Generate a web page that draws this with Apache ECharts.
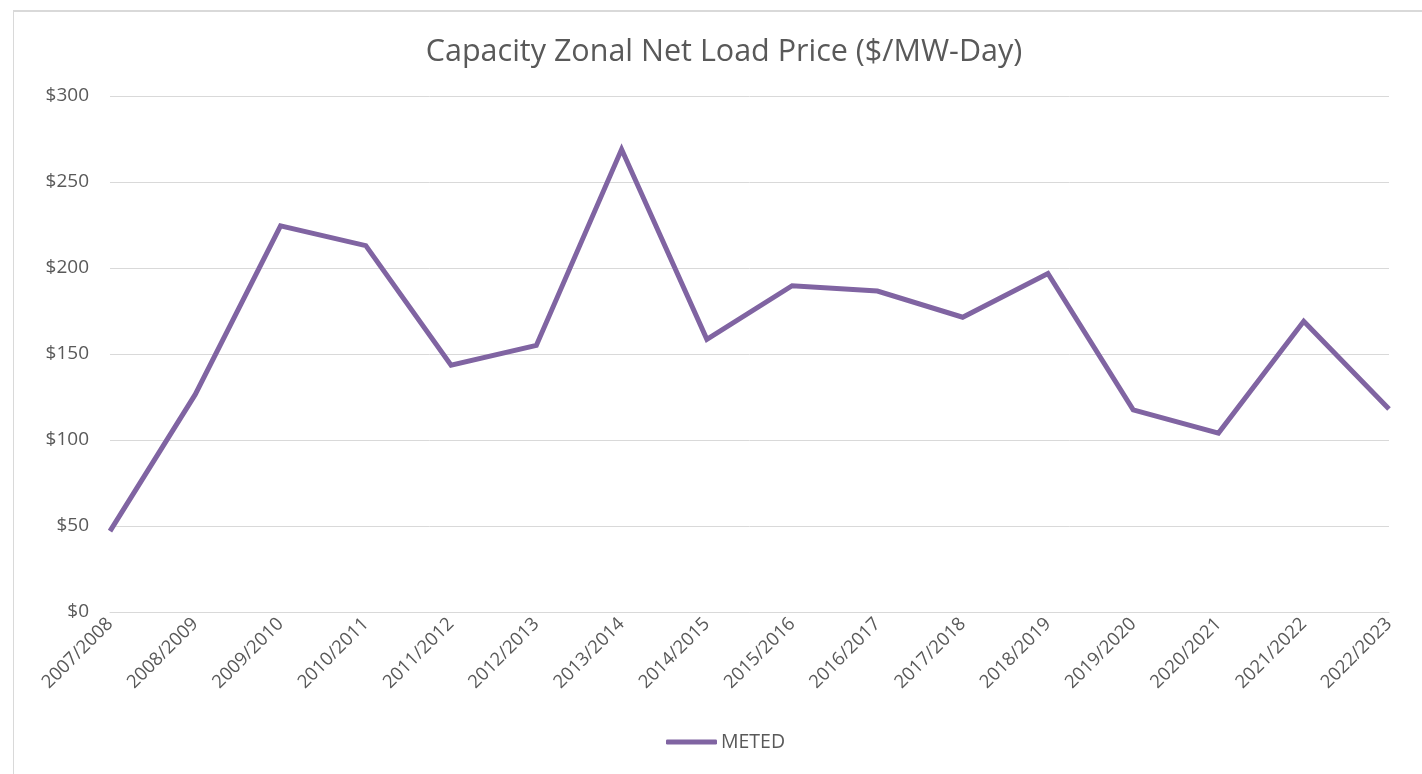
<!DOCTYPE html>
<html>
<head>
<meta charset="utf-8">
<script src="https://cdn.jsdelivr.net/npm/echarts@6/dist/echarts.min.js"></script>
<style>
html,body{margin:0;padding:0;background:#fff;overflow:hidden;}
.frame{position:absolute;left:13px;top:10px;width:1420px;height:770px;border-left:1px solid #d9d9d9;border-top:2px solid #d9d9d9;}
#chart{position:absolute;left:0;top:0;width:1422px;height:774px;}
</style>
</head>
<body>
<div class="frame"></div>
<div id="chart"></div>
<script>
// delivery years
const years = ['2007/2008','2008/2009','2009/2010','2010/2011','2011/2012','2012/2013','2013/2014','2014/2015',
  '2015/2016','2016/2017','2017/2018','2018/2019','2019/2020','2020/2021','2021/2022','2022/2023']
// METED zonal net load price, $/MW-day
const meted = [47, 126.5, 224.5, 213, 143.5, 155, 269, 158.5, 189.7, 186.6, 171.4, 196.8, 117.5, 104, 169, 118]

const textColor = '#595959'
let myecharts = echarts.init(document.getElementById('chart'))
let option = {
  backgroundColor: 'transparent',
  title: {
    text: 'Capacity Zonal Net Load Price ($/MW-Day)',
    left: 719,
    textAlign: 'center',
    top: 32,
    textStyle: {
      fontFamily: 'Open Sans',
      fontSize: 30.5,
      fontWeight: 'normal',
      color: textColor
    }
  },
  legend: {
    bottom: 17,
    left: 661,
    icon: 'roundRect',
    itemWidth: 51,
    itemHeight: 5,
    itemGap: 8,
    textStyle: {fontFamily: 'Open Sans', fontSize: 19.5, color: textColor, padding: [0, 0, 0, -1]},
    data: ['METED']
  },
  grid: {
    left: 110,
    right: 33,
    top: 96,
    bottom: 162
  },
  xAxis: {
    type: 'category',
    data: years,
    boundaryGap: false,
    axisLine: {lineStyle: {color: '#d9d9d9'}},
    axisTick: {show: false},
    axisLabel: {
      rotate: 45,
      margin: 9,
      interval: 0,
      fontFamily: 'Open Sans',
      fontSize: 18.5,
      color: textColor
    }
  },
  yAxis: {
    type: 'value',
    min: 0,
    max: 300,
    interval: 50,
    axisLine: {show: false},
    axisTick: {show: false},
    splitLine: {lineStyle: {color: '#d9d9d9', width: 1}},
    axisLabel: {
      margin: 21,
      fontFamily: 'Open Sans',
      fontSize: 19,
      color: textColor,
      formatter: '${value}'
    }
  },
  series: [
    {
      name: 'METED',
      type: 'line',
      data: meted,
      showSymbol: false,
      symbol: 'none',
      itemStyle: {color: '#8064a2'},
      lineStyle: {color: '#8064a2', width: 5, join: 'miter'}
    }
  ]
}
myecharts.setOption(option)
</script>
</body>
</html>
